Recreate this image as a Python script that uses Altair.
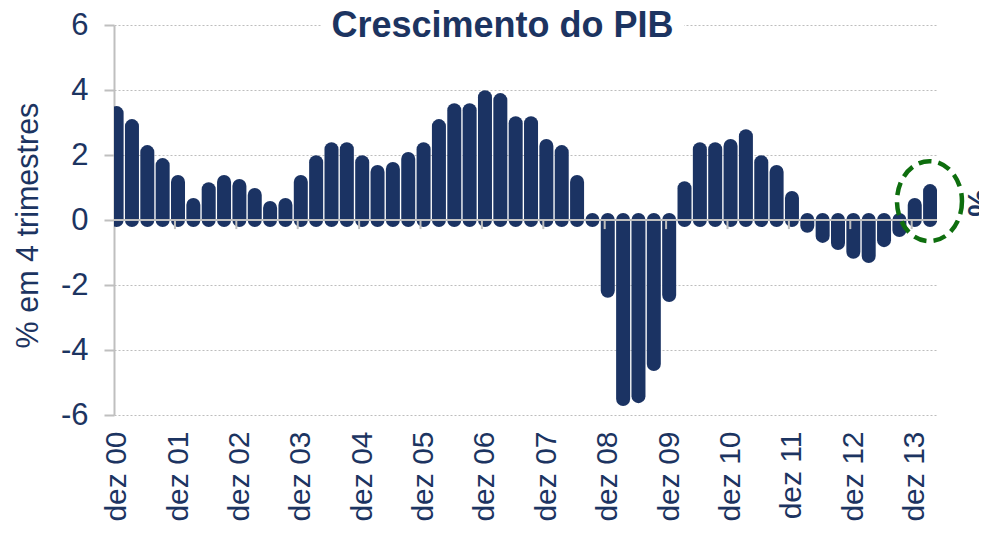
import altair as alt
import pandas as pd

# Quarterly GDP growth (% over 4 quarters), dez 00 .. mar 14
values = [3.29, 2.89, 2.09, 1.69, 1.17, 0.46, 0.95, 1.17, 1.05, 0.77,
          0.37, 0.46, 1.17, 1.78, 2.18, 2.18, 1.78, 1.48, 1.57, 1.88,
          2.18, 2.89, 3.38, 3.38, 3.78, 3.69, 2.98, 2.98, 2.28, 2.09,
          1.17, 0.0, -2.18, -5.51, -5.42, -4.43, -2.31, 0.98, 2.18, 2.18,
          2.28, 2.58, 1.78, 1.48, 0.68, -0.18, -0.49, -0.71, -0.98, -1.11,
          -0.62, -0.31, 0.46, 0.89]
year_labels = ["dez 00", "dez 01", "dez 02", "dez 03", "dez 04", "dez 05", "dez 06",
               "dez 07", "dez 08", "dez 09", "dez 10", "dez 11", "dez 12", "dez 13"]
label_positions = [4 * i for i in range(len(year_labels))]
minor_tick_positions = [3.8 + 4 * i for i in range(13)]
y_ticks = [-6, -4, -2, 0, 2, 4, 6]
highlight = {"idx": [52.96], "value": [0.58]}
title_text = "Crescimento do PIB"
y_title = "% em 4 trimestres"
right_title = "%"

NAVY = "#1b3363"
TEXT = "#1c3461"
GRAY = "#bfbfbf"
FONT = "Liberation Sans"

df = pd.DataFrame({"idx": list(range(len(values))), "value": values})
df["zero"] = 0.0

label_expr = "[" + ",".join("'%s'" % s for s in year_labels) + "][round(datum.value/4)]"

x_scale = alt.Scale(domain=[-0.17, 53.45], nice=False, zero=False)
y_scale = alt.Scale(domain=[-6, 6], nice=False)

bars = alt.Chart(df).mark_rule(
    strokeWidth=14, strokeCap="round", color=NAVY, clip=True
).encode(
    x=alt.X("idx:Q", scale=x_scale, axis=alt.Axis(
        values=label_positions, labelExpr=label_expr, labelAngle=-90,
        labelAlign="right", labelBaseline="middle", labelFontSize=30,
        labelColor=TEXT, labelFont=FONT, labelPadding=16, ticks=False,
        tickSize=0, domain=False, grid=False, title=None,
        labelFlush=False, labelOverlap=False)),
    y=alt.Y("value:Q", scale=y_scale, axis=alt.Axis(
        values=y_ticks, labelExpr="'' + datum.value", grid=True,
        gridDash=[2, 2], gridColor="#bdbdbd",
        gridWidth=1, domainColor=GRAY, domainWidth=2, tickColor=GRAY,
        tickWidth=2, tickSize=10, labelFontSize=31, labelColor=TEXT,
        labelFont=FONT, labelPadding=16, title=y_title,
        titleFontSize=30.5, titleFontWeight="normal", titleColor=TEXT,
        titleFont=FONT, titleX=-77, titleY=200, titleAngle=-90,
        titleAlign="center", titleBaseline="alphabetic")),
    y2="zero:Q",
)

zero_line = alt.Chart(pd.DataFrame({"value": [0.0]})).mark_rule(
    color=GRAY, strokeWidth=2
).encode(y="value:Q")

ticks = alt.Chart(pd.DataFrame({"idx": minor_tick_positions,
                                "value": [0.0] * len(minor_tick_positions),
                                "zero": [-0.28] * len(minor_tick_positions)})
                  ).mark_rule(color=GRAY, strokeWidth=2).encode(
    x="idx:Q", y="value:Q", y2="zero:Q")

k = 0.5523
rx, ry = 0.8125, 1.0
ellipse_path = (
    f"M {rx},0 C {rx},{k*ry} {k*rx},{ry} 0,{ry} "
    f"C {-k*rx},{ry} {-rx},{k*ry} {-rx},0 "
    f"C {-rx},{-k*ry} {-k*rx},{-ry} 0,{-ry} "
    f"C {k*rx},{-ry} {rx},{-k*ry} {rx},0 Z"
)
ellipse = alt.Chart(pd.DataFrame(highlight)).mark_point(
    shape=ellipse_path, size=6400, filled=False, stroke="#0e6e0e",
    strokeWidth=4.5, strokeDash=[13, 7], opacity=1
).encode(x="idx:Q", y="value:Q")

pct = alt.Chart(pd.DataFrame({"t": [right_title]})).mark_text(
    angle=90, fontSize=31, fontWeight="bold", color=TEXT, font=FONT,
    align="center", baseline="middle"
).encode(text="t:N", x=alt.value(863), y=alt.value(178))

title_bg = alt.Chart(pd.DataFrame({"t": [title_text]})).mark_rect(
    color="white"
).encode(x=alt.value(208), x2=alt.value(570), y=alt.value(-3), y2=alt.value(3))

title = alt.Chart(pd.DataFrame({"t": [title_text]})).mark_text(
    fontSize=36, fontWeight="bold", color=TEXT, font=FONT,
    align="center", baseline="alphabetic"
).encode(text="t:N", x=alt.value(388.5), y=alt.value(12))

chart = alt.layer(title_bg, bars, zero_line, ticks, ellipse, pct, title).properties(
    width=823, height=390,
    padding={"left": 106, "top": 17, "right": 42, "bottom": 110},
    autosize=alt.AutoSizeParams(type="none"),
).configure_view(stroke=None)

chart.save("out.html", embed_options={"renderer": "svg", "actions": False})
